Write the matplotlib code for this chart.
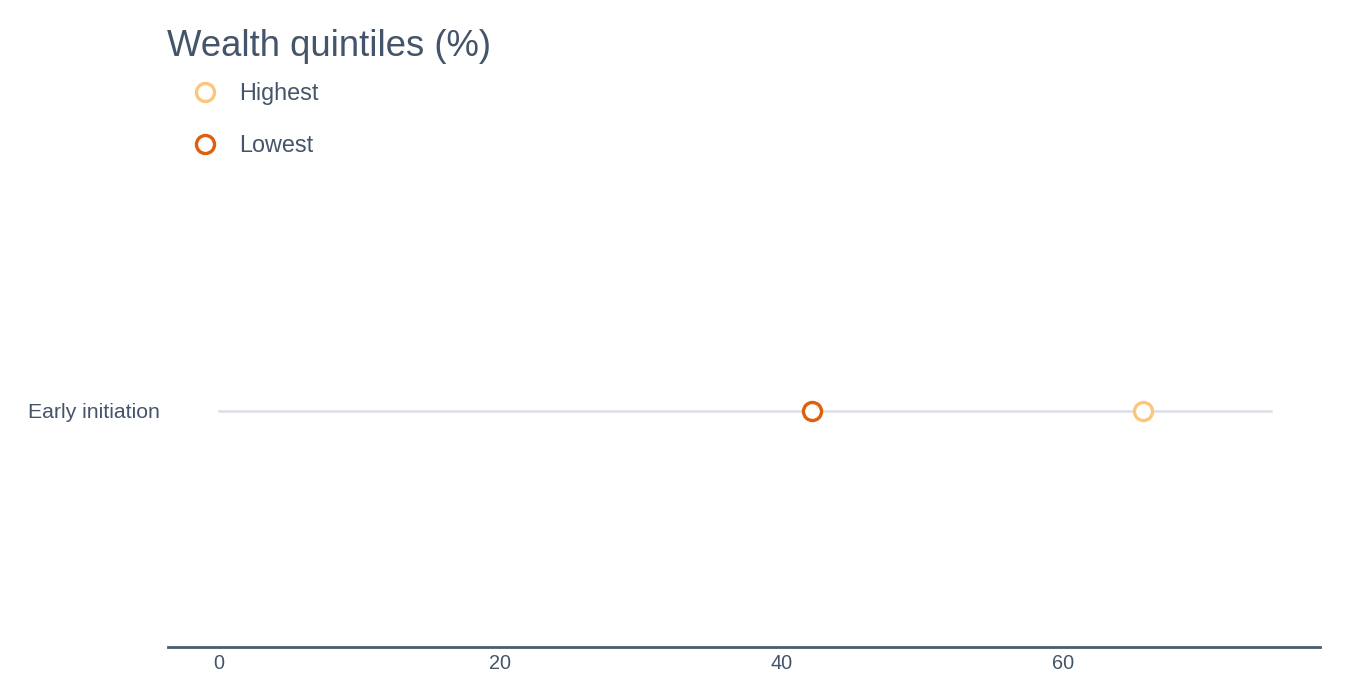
import matplotlib.pyplot as plt

plt.rcParams['font.family'] = ['Liberation Sans', 'DejaVu Sans']

categories = ['Early initiation']
highest = [65.7]
lowest = [42.2]
line_end = [74.8]
ticks = [0, 20, 40, 60]

text_color = '#44546a'
col_high = '#fcc67c'
col_low = '#df5f0c'

fig = plt.figure(figsize=(13.5, 7), dpi=100)
ax = fig.add_axes([168 / 1350, 53 / 700, (1320 - 168) / 1350, (647 - 175) / 700])

for i, cat in enumerate(categories):
    ax.plot([0, line_end[i]], [i, i], color='#dcdde8', lw=1.8, zorder=1)

ax.plot(highest, range(len(categories)), 'o', ms=13, mfc='white', mec=col_high,
        mew=2.4, zorder=3, label='Highest')
ax.plot(lowest, range(len(categories)), 'o', ms=13, mfc='white', mec=col_low,
        mew=2.4, zorder=3, label='Lowest')

ax.set_xlim(-3.6, 78.3)
ax.set_ylim(-0.5, 0.5)
ax.set_yticks(range(len(categories)))
ax.set_yticklabels(categories, fontsize=15.3, color=text_color)
ax.set_xticks(ticks)
ax.set_xticklabels([str(t) for t in ticks], fontsize=14.3, color=text_color)
ax.tick_params(axis='both', length=0)
ax.tick_params(axis='x', pad=5)
ax.tick_params(axis='y', pad=6)

for s in ['top', 'right', 'left']:
    ax.spines[s].set_visible(False)
ax.spines['bottom'].set_color('#4a5b6c')
ax.spines['bottom'].set_linewidth(2)

fig.text(167 / 1350, 1 - 46 / 700, 'Wealth quintiles (%)', fontsize=26.3,
         color=text_color, va='center', ha='left')

fig.legend(loc='upper left', bbox_to_anchor=(191 / 1350, 1 - 82 / 700), frameon=False,
           fontsize=16.8, labelcolor=text_color, handlelength=1.2, handletextpad=0.85,
           labelspacing=1.23, borderaxespad=0, borderpad=0, numpoints=1)

fig.savefig('out.png', dpi=100)
